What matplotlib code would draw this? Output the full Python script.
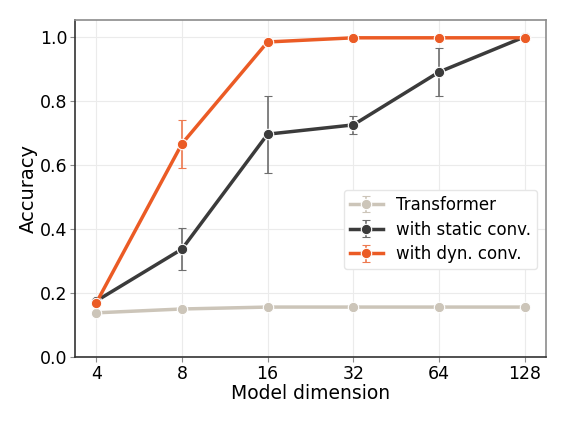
import matplotlib
matplotlib.use("Agg")
import matplotlib.pyplot as plt
from matplotlib.ticker import FixedLocator, FixedFormatter, NullLocator

dims = [4, 8, 16, 32, 64, 128]
tick_labels = ["4", "8", "16", "32", "64", "128"]

transformer = [0.138, 0.150, 0.156, 0.156, 0.156, 0.156]
transformer_err = [0.0, 0.0, 0.0, 0.0, 0.0, 0.0]
static_conv = [0.175, 0.337, 0.696, 0.725, 0.890, 1.0]
static_err = [0.0, 0.065, 0.120, 0.028, 0.075, 0.0]
dyn_conv = [0.169, 0.666, 0.984, 0.997, 0.997, 0.997]
dyn_err = [0.0, 0.075, 0.0, 0.0, 0.0, 0.0]

c_tr = "#CCC5B9"
c_st = "#3B3B3B"
c_dy = "#EB5B25"

fig = plt.figure(figsize=(5.67, 4.23), dpi=100)
ax = fig.add_axes([0.132, 0.156, 0.831, 0.797])

series = [
    ("Transformer", transformer, transformer_err, c_tr, "#CCC5B9"),
    ("with static conv.", static_conv, static_err, c_st, "#6E6E6E"),
    ("with dyn. conv.", dyn_conv, dyn_err, c_dy, "#EE7A50"),
]
for label, vals, errs, col, ecol in series:
    ax.errorbar(dims, vals, yerr=errs, color=col, ecolor=ecol, lw=2.5,
                marker="o", ms=7.5, mec="white", mew=0.8, elinewidth=1.2,
                capsize=3, capthick=1.2, label=label, zorder=3)

ax.set_xscale("log", base=2)
ax.xaxis.set_major_locator(FixedLocator(dims))
ax.xaxis.set_major_formatter(FixedFormatter(tick_labels))
ax.xaxis.set_minor_locator(NullLocator())
ax.set_ylim(0, 1.053)
ax.set_yticks([0.0, 0.2, 0.4, 0.6, 0.8, 1.0])

ax.grid(True, color="#EBEBEB", lw=0.8, zorder=0)
ax.set_axisbelow(True)
for s in ["top", "right"]:
    ax.spines[s].set_color("#8C8C8C")
for s in ["left", "bottom"]:
    ax.spines[s].set_color("#333333")
for s in ax.spines.values():
    s.set_linewidth(1.2)
ax.tick_params(axis="both", labelsize=12.5, color="#8C8C8C", length=3.5, pad=2)

ax.set_xlabel("Model dimension", fontsize=13.5, labelpad=1)
ax.set_ylabel("Accuracy", fontsize=14, labelpad=1)

ax.legend(loc="center right", bbox_to_anchor=(0.981, 0.378), fontsize=12,
          framealpha=1, edgecolor="#E6E6E6", handlelength=2.0,
          borderpad=0.35, labelspacing=0.4, handletextpad=0.8,
          borderaxespad=0)

fig.savefig("out.png", dpi=100)
